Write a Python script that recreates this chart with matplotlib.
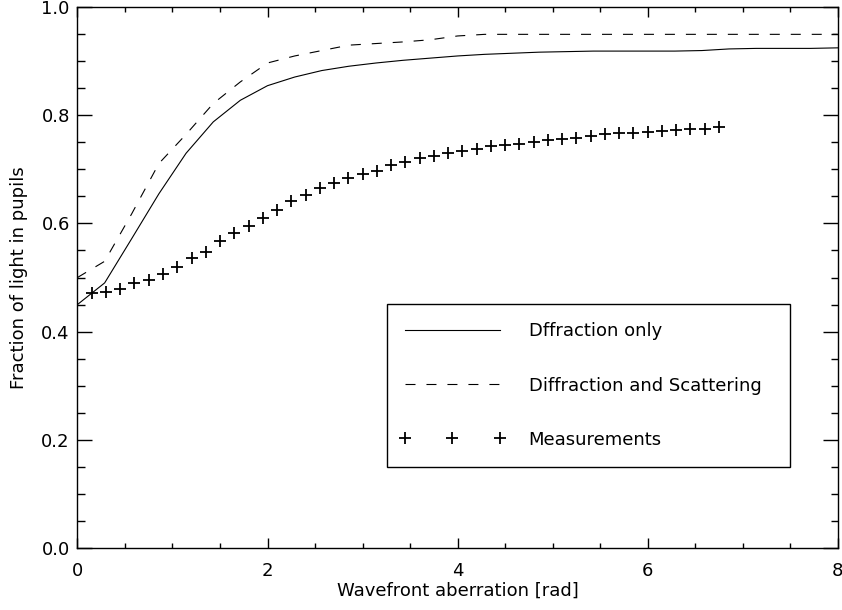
import matplotlib
matplotlib.use("Agg")
import matplotlib.pyplot as plt
from matplotlib.ticker import MultipleLocator, FormatStrFormatter
from matplotlib.legend_handler import HandlerLine2D

plt.rcParams['font.family'] = ['DejaVu Sans']
plt.rcParams['font.size'] = 13
plt.rcParams['lines.scale_dashes'] = False

# Model curves (shared x grid)
model_x = [0.0, 0.286, 0.571, 0.857, 1.143, 1.429, 1.714, 2.0, 2.286, 2.571,
           2.857, 3.143, 3.429, 3.714, 4.0, 4.286, 4.571, 4.857, 5.143, 5.429,
           5.714, 6.0, 6.286, 6.571, 6.857, 7.143, 7.429, 7.714, 8.0]
diffraction_only = [0.450, 0.490, 0.572, 0.655, 0.730, 0.788, 0.828, 0.855, 0.871, 0.883,
                    0.891, 0.897, 0.902, 0.906, 0.910, 0.913, 0.915, 0.917, 0.918, 0.919,
                    0.919, 0.919, 0.919, 0.920, 0.923, 0.924, 0.924, 0.924, 0.925]
diffraction_scattering = [0.500, 0.530, 0.618, 0.711, 0.765, 0.822, 0.862, 0.897, 0.910, 0.920,
                          0.930, 0.933, 0.936, 0.940, 0.947, 0.950, 0.950, 0.950, 0.950, 0.950,
                          0.950, 0.950, 0.950, 0.950, 0.950, 0.950, 0.950, 0.950, 0.950]

# Measurements
meas_x = [0.15, 0.30, 0.45, 0.60, 0.75, 0.90, 1.05, 1.20, 1.35, 1.50,
          1.65, 1.80, 1.95, 2.10, 2.25, 2.40, 2.55, 2.70, 2.85, 3.00,
          3.15, 3.30, 3.45, 3.60, 3.75, 3.90, 4.05, 4.20, 4.35, 4.50,
          4.65, 4.80, 4.95, 5.10, 5.25, 5.40, 5.55, 5.70, 5.85, 6.00,
          6.15, 6.30, 6.45, 6.60, 6.75]
meas_y = [0.471, 0.473, 0.478, 0.489, 0.496, 0.507, 0.520, 0.536, 0.548, 0.568,
          0.582, 0.595, 0.611, 0.625, 0.641, 0.653, 0.665, 0.675, 0.684, 0.692,
          0.697, 0.709, 0.714, 0.721, 0.725, 0.730, 0.735, 0.738, 0.743, 0.746,
          0.748, 0.751, 0.754, 0.756, 0.759, 0.762, 0.765, 0.767, 0.768, 0.770,
          0.772, 0.773, 0.774, 0.775, 0.778]

labels = ["Dffraction only", "Diffraction and Scattering", "Measurements"]

fig = plt.figure(figsize=(8.42, 6.10), dpi=100)
ax = fig.add_axes([0.0920, 0.1021, 0.9029, 0.8859])

ax.plot(model_x, diffraction_only, color='black', lw=0.8, label=labels[0])
ax.plot(model_x, diffraction_scattering, color='black', lw=0.8,
        dashes=(7.2, 7.9), label=labels[1])
ax.plot(meas_x, meas_y, linestyle='none', marker='+', ms=8, mew=1.3,
        color='black', label=labels[2])

ax.set_xlim(0, 8)
ax.set_ylim(0, 1.0)
ax.xaxis.set_major_locator(MultipleLocator(2))
ax.xaxis.set_minor_locator(MultipleLocator(0.5))
ax.yaxis.set_major_locator(MultipleLocator(0.2))
ax.yaxis.set_minor_locator(MultipleLocator(0.05))
ax.yaxis.set_major_formatter(FormatStrFormatter('%.1f'))
ax.xaxis.set_major_formatter(FormatStrFormatter('%d'))

ax.tick_params(axis='x', which='major', direction='in', length=7.2, width=1.0,
               top=True, pad=10.5, labelsize=13)
ax.tick_params(axis='x', which='minor', direction='in', length=3.6, width=1.0, top=True)
ax.tick_params(axis='y', which='major', direction='in', length=10.8, width=1.0,
               right=True, pad=5.5, labelsize=13)
ax.tick_params(axis='y', which='minor', direction='in', length=5.4, width=1.0, right=True)
for s in ax.spines.values():
    s.set_linewidth(1.0)

ax.set_xlabel("Wavefront aberration [rad]", fontsize=13)
ax.set_ylabel("Fraction of light in pupils", fontsize=13)
ax.xaxis.set_label_coords(0.5, -0.063)
ax.yaxis.set_label_coords(-0.065, 0.5)

handles, labs = ax.get_legend_handles_labels()
leg = ax.legend(handles, labs, loc='lower left',
                bbox_to_anchor=(0.4067, 0.1499, 0.5306, 0.3005),
                mode='expand', borderaxespad=0, borderpad=1.0,
                handlelength=5.26, handletextpad=1.6, labelspacing=2.0,
                fancybox=False, framealpha=1, edgecolor='black', fontsize=13,
                handler_map={handles[2]: HandlerLine2D(numpoints=3, marker_pad=0)})
leg.get_frame().set_linewidth(1.0)

fig.savefig("out.png", dpi=100)
